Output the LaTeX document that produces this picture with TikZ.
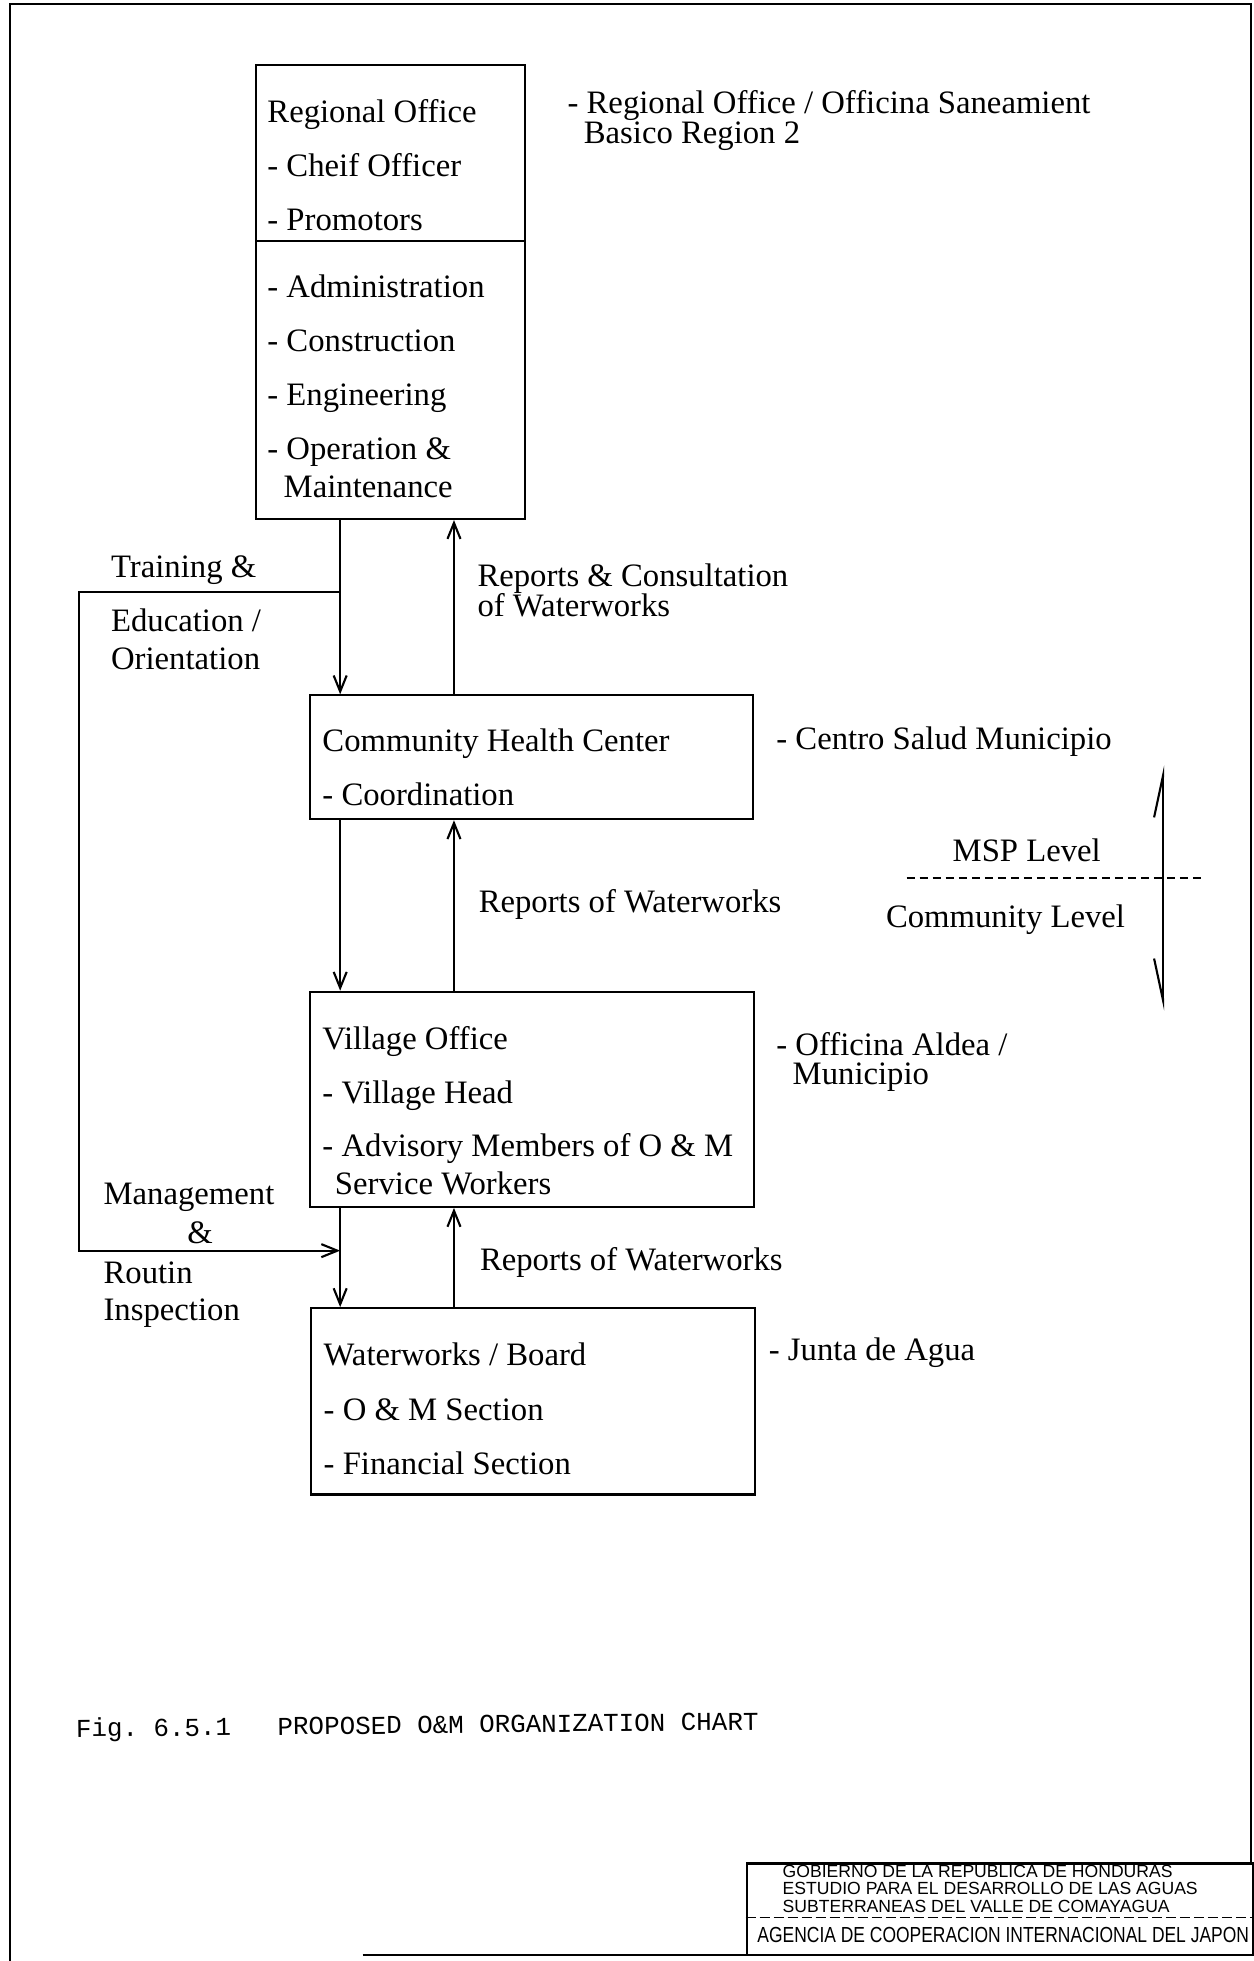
\documentclass[tikz,border=0pt]{standalone}
\usepackage{fontspec}
\setmainfont{Liberation Serif}
\setsansfont{Liberation Sans}
\setmonofont{Liberation Mono}
\usetikzlibrary{positioning,fit,arrows.meta}
\tikzset{every picture/.style={line width=0.6pt}}
\tikzset{
  unitbox/.style={draw, inner sep=0pt},
  entry/.style={anchor=base west, inner sep=0pt, font=\fontsize{9.3}{11}\selectfont},
  remark/.style={entry},
  flow/.style={-{Straight Barb[length=1.6mm,width=1.3mm]}},
  levelarrow/.style={{Straight Barb[harpoon,swap,length=4.2mm,width=1.8mm]}-{Straight Barb[harpoon,length=4.2mm,width=1.8mm]}},
  blockline/.style={anchor=base west, inner sep=0pt, font=\sffamily\fontsize{5}{6}\selectfont},
}

\begin{document}
\begin{tikzpicture}[x=0.0125cm, y=-0.0125cm]
    \useasboundingbox (0,0) rectangle (1002,1568);

    % Sheet frame
    \draw (8,1568) -- (8,3) -- (1000,3) -- (1000,1490);
    \draw (290,1563) -- (1002,1563);

    % Offices
    \node[unitbox, fit={(205,52) (420,415)}] (regional) {};
    \node[unitbox, fit={(248,556) (602,655)}] (chc) {};
    \node[unitbox, fit={(248,793) (603,965)}] (village) {};
    \node[unitbox, fit={(249,1046) (604,1195)}] (board) {};
    \coordinate (split) at (0,193);
    \draw (regional.west |- split) -- (regional.east |- split);

    % Box contents
    \foreach \y/\t [count=\i] in {98/Regional Office, 141/- Cheif Officer, 184/- Promotors,
            238/- Administration, 281/- Construction, 324/- Engineering, 367/- Operation \&}
        \node[entry] (ro\i) at (213,\y) {\t};
    \node[entry] (ro8) at (226,398) {Maintenance};
    \node[entry] (chc1) at (257,601) {Community Health Center};
    \node[entry] (chc2) at (257,644) {- Coordination};
    \foreach \y/\t [count=\i] in {839/Village Office, 882/- Village Head, 925/- Advisory Members of O \& M}
        \node[entry] (vo\i) at (257,\y) {\t};
    \node[entry] (vo4) at (267,955) {Service Workers};
    \foreach \y/\t [count=\i] in {1092/{Waterworks / Board}, 1136/- O \& M Section, 1179/- Financial Section}
        \node[entry] (wb\i) at (258,\y) {\t};

    % Local names
    \node[remark] (rn1) at (453,91) {- Regional Office / Officina Saneamient};
    \node[remark] (rn2) at (466,115) {Basico Region 2};
    \node[remark] (cn) at (620,599) {- Centro Salud Municipio};
    \node[remark] (vn1) at (620,844) {- Officina Aldea /};
    \node[remark] (vn2) at (633,867) {Municipio};
    \node[remark] (bn) at (614,1088) {- Junta de Agua};

    % Instruction and reporting lines
    \coordinate (down) at (272,0);
    \coordinate (up) at (363,0);
    \draw[flow] (regional.south -| down) -- (chc.north -| down);
    \draw[flow] (chc.north -| up) -- (regional.south -| up);
    \draw[flow] (chc.south -| down) -- (village.north -| down);
    \draw[flow] (village.north -| up) -- (chc.south -| up);
    \draw[flow] (village.south -| down) -- (board.north -| down);
    \draw[flow] (board.north -| up) -- (village.south -| up);

    % Training loop back to the waterworks
    \coordinate (train) at (272,473);
    \coordinate (manage) at (272,1000);
    \draw[flow] (train) -- (63,473) |- (manage);

    \node[entry] (tr1) at (88,462) {Training \&};
    \node[entry] (tr2) at (88,505) {Education /};
    \node[entry] (tr3) at (88,535) {Orientation};
    \node[entry] (rc1) at (381,469) {Reports \& Consultation};
    \node[entry] (rc2) at (381,493) {of Waterworks};
    \node[entry] (rw1) at (382,730) {Reports of Waterworks};
    \node[entry] (rw2) at (383,1016) {Reports of Waterworks};
    \node[entry] (mg1) at (82,963) {Management};
    \node[entry, anchor=base] (mg2) at (160,994) {\&};
    \node[entry] (mg3) at (82,1026) {Routin};
    \node[entry] (mg4) at (82,1056) {Inspection};

    % MSP / community level divide
    \coordinate (lvtop) at (930,612);
    \coordinate (lvbot) at (930,808);
    \draw[levelarrow] (lvbot) -- (lvtop);
    \draw[dash pattern=on 0.8mm off 0.5mm] (725,702) -- (960,702);
    \node[entry, anchor=base] (msp) at (821,689) {MSP Level};
    \node[entry, anchor=base] (com) at (804,742) {Community Level};

    % Caption
    \node[anchor=base west, inner sep=0pt, rotate=0.6, font=\ttfamily\fontsize{7.35}{9}\selectfont] (caption)
        at (60,1389) {Fig.~6.5.1\ \ \ PROPOSED O\&M ORGANIZATION CHART};

    % Title block
    \node[unitbox, fit={(597,1490) (1002,1563)}] (titleblock) {};
    \draw[dash pattern=on 1mm off 0.4mm, line width=0.4pt] (titleblock.west |- 0,1533) -- (titleblock.east |- 0,1533);
    \foreach \y/\t [count=\i] in {1501/GOBIERNO DE LA REPUBLICA DE HONDURAS,
            1515/ESTUDIO PARA EL DESARROLLO DE LAS AGUAS, 1529/SUBTERRANEAS DEL VALLE DE COMAYAGUA}
        \node[blockline] (gov\i) at (625,\y) {\t};
    \node[blockline, font=\sffamily\fontsize{6.2}{7}\selectfont, xscale=0.8, transform shape] (agency)
        at (605,1553) {AGENCIA DE COOPERACION INTERNACIONAL DEL JAPON};
\end{tikzpicture}
\end{document}
